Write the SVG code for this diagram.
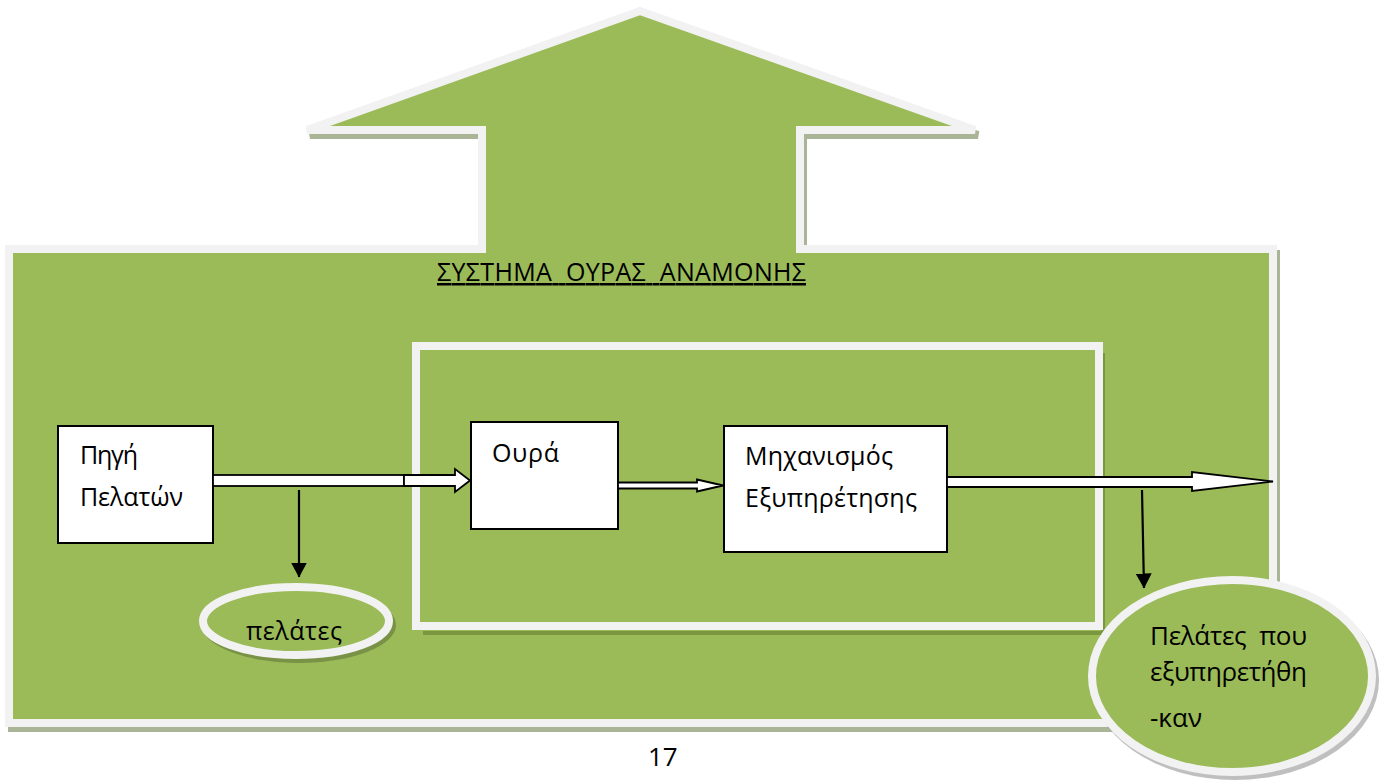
<svg xmlns="http://www.w3.org/2000/svg" width="1387" height="780" viewBox="0 0 1387 780">
<style>
.t{font-family:"Open Sans","Noto Sans","DejaVu Sans",sans-serif;fill:#000;white-space:pre}
.box{fill:#fff;stroke:#000;stroke-width:2}
.frame{fill:#9bbb59;stroke:#f2f2f2;stroke-width:8}
.hollow{fill:#fff;stroke:#000;stroke-width:1.8;stroke-linejoin:miter}
.line{stroke:#000;stroke-width:2.2;fill:none}
</style>
<defs>
<marker id="ah" markerWidth="15" markerHeight="16" refX="14.5" refY="8" orient="auto" markerUnits="userSpaceOnUse" viewBox="0 0 15 16">
<path d="M0,0 L15,8 L0,16 Z" fill="#000"/>
</marker>
</defs>
<rect width="1387" height="780" fill="#fff"/>
<g id="system-frame">
<polygon points="643,16 978,135 803,135 803,254 1276,254 1276,728 12,728 12,254 485,254 485,135 310,135" fill="#aab597" stroke="#aab597" stroke-width="8"/>
<polygon class="frame" points="640,11 975,130 800,130 800,249 1273,249 1273,723 9,723 9,249 482,249 482,130 307,130"/>
<text class="t" x="437" y="281" font-size="25" textLength="369" text-decoration="underline" xml:space="preserve">ΣΥΣΤΗΜΑ  ΟΥΡΑΣ  ΑΝΑΜΟΝΗΣ</text>
</g>
<g id="service-system">
<path d="M1103,353 V633 H423" fill="none" stroke="#7a963f" stroke-width="4"/>
<rect x="416" y="346" width="683" height="280" fill="none" stroke="#f2f2f2" stroke-width="8"/>
</g>
<g id="source">
<rect class="box" x="58" y="426" width="155" height="117"/>
<text class="t" x="80" y="464" font-size="25" textLength="58">Πηγή</text>
<text class="t" x="80" y="506" font-size="25" textLength="103">Πελατών</text>
</g>
<g id="queue">
<rect class="box" x="471" y="422" width="147" height="107"/>
<text class="t" x="492" y="462" font-size="25" textLength="67">Ουρά</text>
</g>
<g id="server">
<rect class="box" x="724" y="426" width="223" height="126"/>
<text class="t" x="745" y="465" font-size="25" textLength="148">Μηχανισμός</text>
<text class="t" x="745" y="507" font-size="25" textLength="172">Εξυπηρέτησης</text>
</g>
<g id="connectors">
<rect class="hollow" x="213" y="475" width="191" height="11"/>
<polygon class="hollow" points="404,475 455,475 455,469 470,480.5 455,492 455,486 404,486"/>
<line class="line" x1="299" y1="490" x2="299" y2="577" marker-end="url(#ah)"/>
<polygon class="hollow" points="618,482.5 697,482.5 697,479.5 723,485.5 697,491.5 697,488.5 618,488.5"/>
<polygon class="hollow" points="947,477 1192,477 1192,472 1273,481.5 1192,491 1192,487 947,487"/>
<line class="line" x1="1142" y1="490" x2="1144" y2="588" marker-end="url(#ah)"/>
</g>
<g id="customers">
<ellipse cx="299" cy="625" rx="97" ry="38" fill="rgba(0,0,0,0.22)"/>
<ellipse cx="296" cy="621" rx="93" ry="34" class="frame"/>
<text class="t" x="246" y="640" font-size="25" textLength="96">πελάτες</text>
</g>
<g id="served-customers">
<ellipse cx="1235" cy="680" rx="144" ry="100" fill="rgba(0,0,0,0.25)"/>
<ellipse cx="1232" cy="676" rx="140" ry="96" class="frame"/>
<text class="t" x="1150" y="645" font-size="26" textLength="157" xml:space="preserve">Πελάτες  που</text>
<text class="t" x="1150" y="681" font-size="26" textLength="157">εξυπηρετήθη</text>
<text class="t" x="1150" y="727" font-size="26">-καν</text>
</g>
<g id="page-number">
<text class="t" x="648" y="766" font-size="26">17</text>
</g>
</svg>
